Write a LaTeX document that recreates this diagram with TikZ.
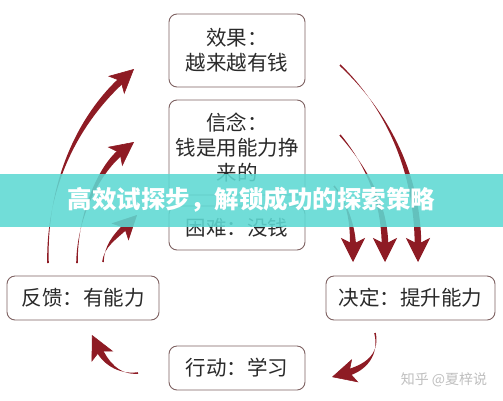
\documentclass[tikz,border=0pt]{standalone}
\usepackage{fontspec}
\setmainfont{Noto Sans CJK SC}
\usetikzlibrary{positioning,calc,arrows.meta}
\definecolor{arrc}{HTML}{8E1B24}
\definecolor{boxc}{HTML}{7E6262}
\definecolor{txtc}{HTML}{2A2A2A}
\definecolor{band}{HTML}{5ED9D3}
\tikzset{
  box/.style  ={draw=boxc,rounded corners=8pt,line width=.9pt,align=center,text=txtc,
                font=\fontsize{20.5}{25}\selectfont,minimum width=136pt,minimum height=44pt,inner sep=2pt},
  tiph/.style ={-{Stealth[length=24pt,width=24pt,inset=6pt]},draw=arrc,fill=arrc,line width=.6pt},
  wmark/.style={font=\fontsize{14}{16}\selectfont,text=black!25},
}
% taper arrow: start, control 1, control 2, tip, half width at the end
\newcommand{\tarrow}[5]{%
  \coordinate (ta-d) at ($(#4)!15pt!(#3)$);
  \fill[arrc] ($(#1)!.8pt!90:(#2)$) .. controls (#2) and ($(#3)!#5!-90:(ta-d)$) .. ($(ta-d)!#5!90:(#3)$)
     -- ($(ta-d)!#5!-90:(#3)$) .. controls ($(#3)!#5!90:(ta-d)$) and (#2) .. ($(#1)!.8pt!-90:(#2)$) -- cycle;
  \draw[tiph] (ta-d) -- (#4);
}

\begin{document}
\begin{tikzpicture}[x=1pt,y=-1pt]
\useasboundingbox (0,0) rectangle (503,400);
\fill[white] (0,0) rectangle (503,400);

% ===================== BOXES ========================================
\node[box,minimum height=73pt] (eff)  at (237,50.5) {效果：\\越来越有钱};
\node[box,minimum height=95pt] (bel)  at (237,147.5){信念：\\钱是用能力挣\\来的};
\node[box]                     (diff) at (237,228)  {困难：没钱};
\node[box,minimum width=152pt] (fb)   at (83,298)   {反馈：有能力};
\node[box,minimum width=169pt] (dec)  at (410.5,298){决定：提升能力};
\node[box]                     (act)  at (237,368)  {行动：学习};

% ===================== ARROW POINTS =================================
\coordinate (l1s) at (48,263);  \coordinate (l1a) at (46,180);  \coordinate (l1b) at (82,116);  \coordinate (l1t) at (134,69);
\coordinate (l2s) at (77,263);  \coordinate (l2a) at (77,215);  \coordinate (l2b) at (100,168); \coordinate (l2t) at (134,142);
\coordinate (l3s) at (103,262); \coordinate (l3a) at (104,246); \coordinate (l3b) at (115,237); \coordinate (l3t) at (137,215);
\coordinate (r1s) at (340,65);  \coordinate (r1a) at (385,108); \coordinate (r1b) at (418,170); \coordinate (r1t) at (418,262);
\coordinate (r2s) at (340,135); \coordinate (r2a) at (368,168); \coordinate (r2b) at (385,205); \coordinate (r2t) at (385,262);
\coordinate (r3s) at (334,186); \coordinate (r3a) at (350,205); \coordinate (r3b) at (353,232); \coordinate (r3t) at (353,262);
\coordinate (brs) at (375,333); \coordinate (bra) at (380,355); \coordinate (brb) at (365,368); \coordinate (brt) at (332,377);
\coordinate (bls) at (138,373); \coordinate (bla) at (118,375); \coordinate (blb) at (105,362); \coordinate (blt) at (92,335);

% ===================== ARROWS =======================================
\tarrow{l1s}{l1a}{l1b}{l1t}{3.3pt}
\tarrow{l2s}{l2a}{l2b}{l2t}{3.3pt}
\tarrow{l3s}{l3a}{l3b}{l3t}{3pt}
\tarrow{r1s}{r1a}{r1b}{r1t}{3.3pt}
\tarrow{r2s}{r2a}{r2b}{r2t}{3.3pt}
\tarrow{r3s}{r3a}{r3b}{r3t}{3pt}
\tarrow{brs}{bra}{brb}{brt}{3.3pt}
\tarrow{bls}{bla}{blb}{blt}{3.3pt}

% ===================== WATERMARK / BANNER ===========================
\node[wmark] (wm) at (444,380) {知乎 @夏梓说};
\fill[band,fill opacity=.88] (0,174) rectangle (503,227);
\node[text=white,font=\bfseries\fontsize{24.5}{28}\selectfont] (ttl) at (251.5,200) {高效试探步，解锁成功的探索策略};

\end{tikzpicture}
\end{document}
